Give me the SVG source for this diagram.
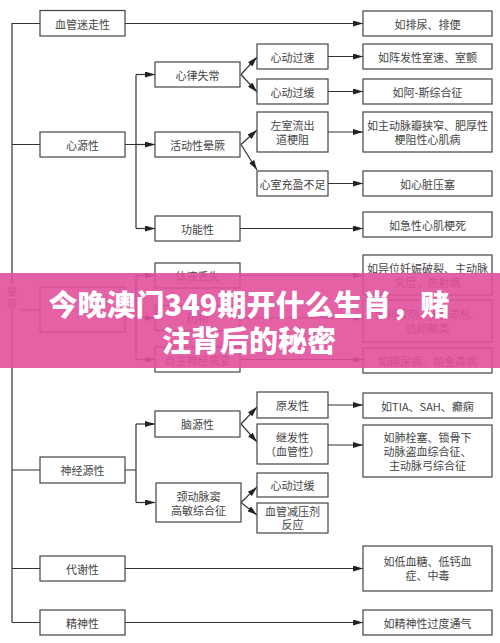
<svg xmlns="http://www.w3.org/2000/svg" width="500" height="643" viewBox="0 0 500 643">
<defs>
<marker id="ah" viewBox="0 0 10 6" refX="10" refY="3" markerWidth="10" markerHeight="6" markerUnits="userSpaceOnUse" orient="auto"><path d="M0,0 L10,3 L0,6 z" fill="#222"/></marker>
<style>
.b{fill:#fff;stroke:#444;stroke-width:1.2}
.t{font-family:"Noto Sans CJK SC","Liberation Serif",serif;font-size:11px;fill:#444;text-anchor:middle;dominant-baseline:central}
.c path{fill:none;stroke:#333;stroke-width:1.2}
.c .a{marker-end:url(#ah)}
.bn{font-family:"Noto Sans CJK SC","Noto Sans",sans-serif;font-size:29px;font-weight:900;fill:#fff;text-anchor:middle}
</style>
</defs>
<rect width="500" height="643" fill="#fff"/>
<g class="c" id="connectors">
<path d="M12,23 V284 M12,309 V622.5"/>
<path d="M12,23.5 H40 M12,144.5 H40 M20,310 H40 M12,470 H40 M12,568.5 H40 M12,622.5 H40"/>
<path class="a" d="M125,23.5 H363"/>
<path d="M125,144.5 H136 M136,74.5 V228.5"/>
<path class="a" d="M136,74.5 H155"/>
<path class="a" d="M136,144.5 H155"/>
<path class="a" d="M136,228.5 H155"/>
<path class="a" d="M241,74.5 L257,57"/>
<path class="a" d="M241,74.5 L257,92"/>
<path class="a" d="M241,144.5 L257,130"/>
<path class="a" d="M241,144.5 L257,170"/>
<path class="a" d="M328,56.5 H363"/>
<path class="a" d="M328,91.5 H363"/>
<path class="a" d="M328,132 H363"/>
<path class="a" d="M328,183.5 H363"/>
<path class="a" d="M240,228.5 H363"/>
<path d="M125,310 H136 M136,275.5 V359.5"/>
<path class="a" d="M136,275.5 H155"/>
<path class="a" d="M136,318 H155"/>
<path class="a" d="M136,359.5 H155"/>
<path class="a" d="M240,275.5 H363"/>
<path class="a" d="M240,318 H363"/>
<path class="a" d="M240,359.5 H363"/>
<path d="M125,470 H136 M136,424 V502.5"/>
<path class="a" d="M136,424 H155"/>
<path class="a" d="M136,502.5 H155"/>
<path class="a" d="M241,424 L257,407"/>
<path class="a" d="M241,424 L257,442"/>
<path class="a" d="M241,502.5 L257,487"/>
<path class="a" d="M241,502.5 L257,515"/>
<path class="a" d="M328,405 H363"/>
<path class="a" d="M328,445 H363"/>
<path class="a" d="M125,568.5 H363"/>
<path class="a" d="M125,622.5 H363"/>
</g>
<g id="root"><text class="t" x="12" y="291" style="font-size:10px">晕</text><text class="t" x="12" y="303" style="font-size:10px">厥</text></g>
<g id="n-vasovagal"><rect class="b" x="40" y="10.5" width="85" height="25.5"/><text class="t" x="82.5" y="23.5">血管迷走性</text></g>
<g id="r-vasovagal"><rect class="b" x="363" y="11" width="129" height="25"/><text class="t" x="427.5" y="23.5">如排尿、排便</text></g>
<g id="n-cardiac"><rect class="b" x="40" y="132" width="85" height="25"/><text class="t" x="82.5" y="144.5">心源性</text></g>
<g id="n-arrhythmia"><rect class="b" x="155" y="62" width="85" height="25"/><text class="t" x="197.5" y="74.5">心律失常</text></g>
<g id="n-exertional"><rect class="b" x="155" y="132" width="85" height="25"/><text class="t" x="197.5" y="144.5">活动性晕厥</text></g>
<g id="n-functional"><rect class="b" x="155" y="216" width="85" height="25"/><text class="t" x="197.5" y="228.5">功能性</text></g>
<g id="n-tachy"><rect class="b" x="257" y="44" width="71" height="25"/><text class="t" x="292.5" y="56.5">心动过速</text></g>
<g id="n-brady"><rect class="b" x="257" y="79" width="71" height="25"/><text class="t" x="292.5" y="91.5">心动过缓</text></g>
<g id="n-lvoto"><rect class="b" x="257" y="112" width="71" height="40"/><text class="t" x="292.5" y="125">左室流出</text><text class="t" x="292.5" y="139">道梗阻</text></g>
<g id="n-filling"><rect class="b" x="257" y="171" width="71" height="25"/><text class="t" x="292.5" y="183.5">心室充盈不足</text></g>
<g id="r-tachy"><rect class="b" x="363" y="44" width="129" height="25"/><text class="t" x="427.5" y="56.5">如阵发性室速、室颤</text></g>
<g id="r-brady"><rect class="b" x="363" y="79" width="129" height="25"/><text class="t" x="427.5" y="91.5">如阿-斯综合征</text></g>
<g id="r-lvoto"><rect class="b" x="363" y="112" width="129" height="40"/><text class="t" x="427.5" y="125">如主动脉瓣狭窄、肥厚性</text><text class="t" x="427.5" y="139">梗阻性心肌病</text></g>
<g id="r-filling"><rect class="b" x="363" y="171" width="129" height="25"/><text class="t" x="427.5" y="183.5">如心脏压塞</text></g>
<g id="r-functional"><rect class="b" x="363" y="212" width="129" height="25"/><text class="t" x="427.5" y="224.5">如急性心肌梗死</text></g>
<g id="n-orthostatic"><rect class="b" x="40" y="287" width="85" height="45"/></g>
<g id="n-fluid"><rect class="b" x="155" y="263" width="85" height="25"/><text class="t" x="197.5" y="275.5">体液丢失</text></g>
<g id="n-drug"><rect class="b" x="155" y="305.5" width="85" height="25"/><text class="t" x="197.5" y="318">药物</text></g>
<g id="n-autonomic"><rect class="b" x="155" y="347" width="85" height="25"/><text class="t" x="197.5" y="359.5">自主神经病变</text></g>
<g id="r-fluid"><rect class="b" x="363" y="255" width="129" height="40"/><text class="t" x="427.5" y="268">如异位妊娠破裂、主动脉</text><text class="t" x="427.5" y="282">夹层，热射病</text></g>
<g id="r-drug"><rect class="b" x="363" y="300" width="129" height="42"/><text class="t" x="427.5" y="314">如利尿剂、β阻滞剂、</text><text class="t" x="427.5" y="328">抗抑郁类</text></g>
<g id="r-autonomic"><rect class="b" x="363" y="348" width="129" height="25"/><text class="t" x="427.5" y="360.5">如糖尿病、帕金森病</text></g>
<g id="n-neuro"><rect class="b" x="40" y="457" width="85" height="26"/><text class="t" x="82.5" y="470">神经源性</text></g>
<g id="n-brain"><rect class="b" x="155" y="411" width="85" height="26"/><text class="t" x="197.5" y="424">脑源性</text></g>
<g id="n-carotid"><rect class="b" x="156" y="483" width="85" height="39"/><text class="t" x="198.5" y="496">颈动脉窦</text><text class="t" x="198.5" y="510">高敏综合征</text></g>
<g id="n-primary"><rect class="b" x="257" y="392" width="71" height="26"/><text class="t" x="292.5" y="405">原发性</text></g>
<g id="n-secondary"><rect class="b" x="257" y="424" width="71" height="40"/><text class="t" x="292.5" y="437">继发性</text><text class="t" x="292.5" y="451">（血管性）</text></g>
<g id="n-brady2"><rect class="b" x="257" y="473" width="71" height="24"/><text class="t" x="292.5" y="485">心动过缓</text></g>
<g id="n-vasodep"><rect class="b" x="257" y="503" width="71" height="30"/><text class="t" x="292.5" y="511">血管减压剂</text><text class="t" x="292.5" y="524">反应</text></g>
<g id="r-primary"><rect class="b" x="363" y="393" width="129" height="25"/><text class="t" x="427.5" y="405.5">如TIA、SAH、癫痫</text></g>
<g id="r-secondary"><rect class="b" x="363" y="425" width="129" height="52"/><text class="t" x="427.5" y="437">如肺栓塞、锁骨下</text><text class="t" x="427.5" y="451">动脉盗血综合征、</text><text class="t" x="427.5" y="465">主动脉弓综合征</text></g>
<g id="n-metabolic"><rect class="b" x="40" y="556" width="85" height="25"/><text class="t" x="82.5" y="568.5">代谢性</text></g>
<g id="r-metabolic"><rect class="b" x="363" y="546" width="129" height="45"/><text class="t" x="427.5" y="561">如低血糖、低钙血</text><text class="t" x="427.5" y="575">症、中毒</text></g>
<g id="n-psych"><rect class="b" x="40" y="610" width="85" height="25"/><text class="t" x="82.5" y="622.5">精神性</text></g>
<g id="r-psych"><rect class="b" x="363" y="610" width="129" height="25"/><text class="t" x="427.5" y="622.5">如精神性过度通气</text></g>
<g id="banner">
<rect x="0" y="273" width="500" height="95" fill="#e0509a" opacity="0.9"/>
<text class="bn" x="249" y="316">今晚澳门349期开什么生肖，赌</text>
<text class="bn" x="249" y="352">注背后的秘密</text>
</g>
</svg>
